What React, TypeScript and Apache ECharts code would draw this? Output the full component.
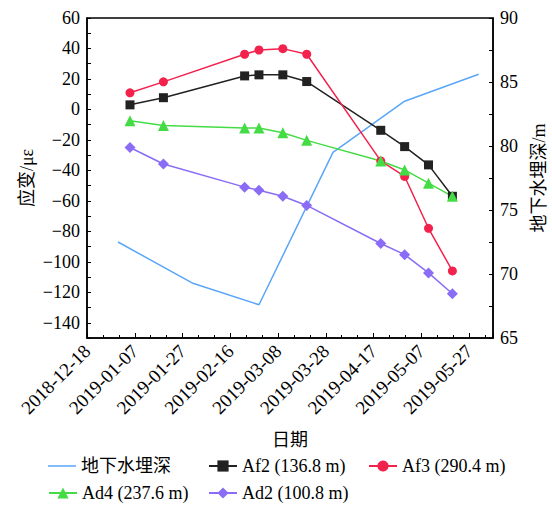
import React, { useEffect, useRef } from 'react';
import * as echarts from 'echarts';

// Strain measurement dates
const strainDates = ['2019-01-05', '2019-01-19', '2019-02-22', '2019-02-28', '2019-03-10', '2019-03-20', '2019-04-20', '2019-04-30', '2019-05-10', '2019-05-20'];
const af2 = [3, 7.7, 22, 22.7, 22.7, 18.3, -13.7, -24.4, -36.4, -57];
const af3 = [10.9, 18.1, 36.2, 39, 39.9, 36.2, -33.8, -44, -78, -106];
const ad4 = [-7.5, -10.5, -12.2, -12.2, -15.3, -20.3, -33.8, -39.7, -48.4, -57];
const ad2 = [-25, -35.8, -51, -53, -57, -63, -88, -95.3, -107.3, -121];

// Groundwater depth
const gwDates = ['2018-12-31', '2019-01-31', '2019-02-28', '2019-03-31', '2019-04-30', '2019-05-31'];
const gwDepth = [72.5, 69.3, 67.6, 79.5, 83.5, 85.6];

const seriesNames = ['地下水埋深', 'Af2 (136.8 m)', 'Af3 (290.4 m)', 'Ad4 (237.6 m)', 'Ad2 (100.8 m)'];

const ORIGIN = '2018-12-18';
const DAY = 86400000;
const toUTC = (s: string) => {
  const [y, m, d] = s.split('-').map(Number);
  return Date.UTC(y, m - 1, d);
};
const dayOf = (s: string) => Math.round((toUTC(s) - toUTC(ORIGIN)) / DAY);
const fmtDay = (v: number) => {
  const dt = new Date(toUTC(ORIGIN) + v * DAY);
  const p = (n: number) => (n < 10 ? '0' + n : '' + n);
  return dt.getUTCFullYear() + '-' + p(dt.getUTCMonth() + 1) + '-' + p(dt.getUTCDate());
};

const FONT = '"Liberation Serif", "Times New Roman", "Noto Sans CJK SC", serif';
const C_BLUE = '#5aa6f8';
const C_BLACK = '#222222';
const C_RED = '#f3224c';
const C_GREEN = '#44dc44';
const C_PURPLE = '#8a6cf6';

const pair = (dates: string[], vals: number[]) => dates.map((d, i) => [dayOf(d), vals[i]]);

export default function App() {
  const ref = useRef<HTMLDivElement>(null);
  useEffect(() => {
    const chart = echarts.init(ref.current!, null, { renderer: 'svg' });
    const axisText = { color: '#000', fontFamily: FONT, fontSize: 18 };
    const mkLegend = (name: string, left: number, top: number, extra: any = {}) => ({
      data: [name],
      left,
      top,
      itemWidth: 28,
      itemHeight: 14,
      itemGap: 5,
      textStyle: { color: '#000', fontFamily: FONT, fontSize: 18 },
      ...extra,
    });
    const option: any = {
      animation: false,
      textStyle: { fontFamily: FONT },
      grid: {
        left: 87, right: 59, top: 18, bottom: 167,
        outerBoundsMode: 'none',
        containLabel: false,
        show: true, borderColor: '#000', borderWidth: 1.5,
      },
      legend: [
        mkLegend(seriesNames[0], 43, 452, { icon: 'rect', itemHeight: 1.5 }),
        mkLegend(seriesNames[1], 203, 452),
        mkLegend(seriesNames[2], 363, 452),
        mkLegend(seriesNames[3], 43, 479),
        mkLegend(seriesNames[4], 203, 479),
      ],
      xAxis: {
        type: 'value',
        min: 0, max: 170, interval: 20,
        name: '日期', nameLocation: 'middle', nameGap: 93, nameMoveOverlap: false,
        nameTextStyle: { ...axisText },
        axisLine: { onZero: false, lineStyle: { color: '#000', width: 1.5 } },
        axisTick: { inside: true, length: 5, lineStyle: { color: '#000' } },
        minorTick: { show: true, splitNumber: 3, length: 3, lineStyle: { color: '#000' } },
        splitLine: { show: false },
        axisLabel: {
          ...axisText, fontSize: 19, rotate: 45, margin: 10,
          showMaxLabel: false,
          formatter: (v: number) => (v % 20 === 0 ? fmtDay(v) : ''),
        },
      },
      yAxis: [
        {
          type: 'value', min: -150, max: 60, interval: 10,
          name: '应变/με', nameLocation: 'middle', nameGap: 51, nameRotate: 90, nameMoveOverlap: false,
          nameTextStyle: { ...axisText },
          axisLine: { show: true, lineStyle: { color: '#000', width: 1.5 } },
          axisTick: { show: true, inside: true, length: 4, lineStyle: { color: '#000' } },
          splitLine: { show: false },
          axisLabel: {
            ...axisText, margin: 7,
            formatter: (v: number) => (v % 20 === 0 ? String(v).replace('-', '−') : ''),
          },
        },
        {
          type: 'value', min: 65, max: 90, interval: 2.5, position: 'right',
          name: '地下水埋深/m', nameLocation: 'middle', nameGap: 37, nameRotate: 90, nameMoveOverlap: false,
          nameTextStyle: { ...axisText },
          axisLine: { show: true, lineStyle: { color: '#000', width: 1.5 } },
          axisTick: { show: true, inside: true, length: 4, lineStyle: { color: '#000' } },
          splitLine: { show: false },
          axisLabel: {
            ...axisText, margin: 7,
            formatter: (v: number) => (v % 5 === 0 ? String(v) : ''),
          },
        },
      ],
      series: [
        {
          name: seriesNames[0], type: 'line', yAxisIndex: 1, symbol: 'none',
          data: pair(gwDates, gwDepth),
          lineStyle: { color: C_BLUE, width: 1.5 }, itemStyle: { color: C_BLUE },
        },
        {
          name: seriesNames[1], type: 'line', symbol: 'rect', symbolSize: 9,
          data: pair(strainDates, af2),
          lineStyle: { color: C_BLACK, width: 1.5 }, itemStyle: { color: C_BLACK },
        },
        {
          name: seriesNames[2], type: 'line', symbol: 'circle', symbolSize: 9,
          data: pair(strainDates, af3),
          lineStyle: { color: C_RED, width: 1.5 }, itemStyle: { color: C_RED },
        },
        {
          name: seriesNames[3], type: 'line', symbol: 'triangle', symbolSize: 11,
          data: pair(strainDates, ad4),
          lineStyle: { color: C_GREEN, width: 1.5 }, itemStyle: { color: C_GREEN },
        },
        {
          name: seriesNames[4], type: 'line', symbol: 'diamond', symbolSize: 11,
          data: pair(strainDates, ad2),
          lineStyle: { color: C_PURPLE, width: 1.5 }, itemStyle: { color: C_PURPLE },
        },
      ],
    };
    chart.setOption(option);
    return () => chart.dispose();
  }, []);
  return <div ref={ref} style={{ position: 'fixed', left: 0, top: 0, width: 552, height: 505, background: '#fff' }} />;
}
